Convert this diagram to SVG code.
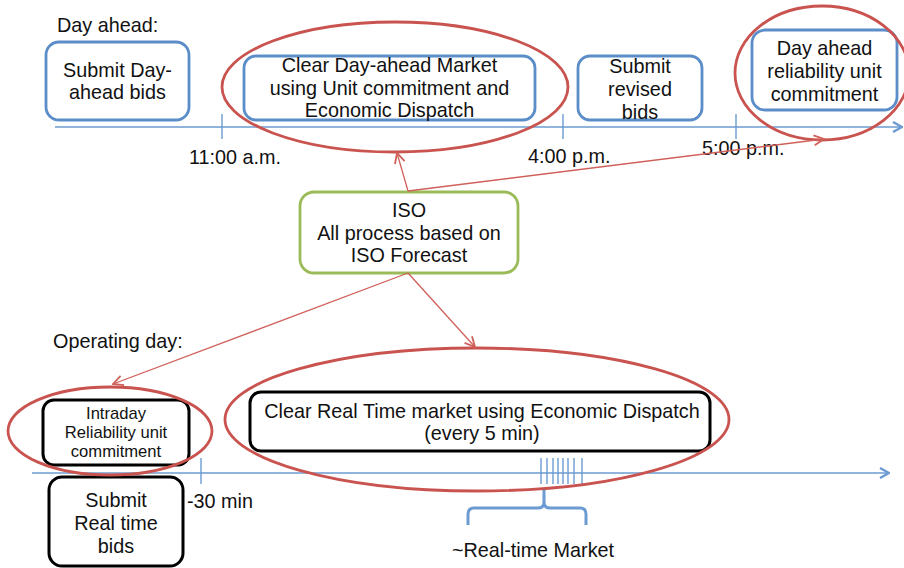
<svg xmlns="http://www.w3.org/2000/svg" width="904" height="568" viewBox="0 0 904 568">
<defs>
<style>
text{font-family:"Liberation Sans",Arial,sans-serif;font-size:19.8px;fill:#111}
.c{text-anchor:middle}
.s{font-size:16.6px}
.bb{fill:#fff;stroke:#5b8ec9;stroke-width:2.8}
.kb{fill:#fff;stroke:#000;stroke-width:3}
.gb{fill:#fff;stroke:#9bbb59;stroke-width:2.8}
.ax{stroke:#6c9bd2;stroke-width:1.4;fill:none}
.tk{stroke:#6c9bd2;stroke-width:1.4}
.el{fill:none;stroke:#c9534f;stroke-width:2.8}
.ar{stroke:#d0605a;stroke-width:1.3;fill:none;marker-end:url(#rh)}
</style>
<marker id="rh" viewBox="0 0 12 12" refX="11" refY="6" markerWidth="12" markerHeight="12" markerUnits="userSpaceOnUse" orient="auto">
<path d="M1,1 L11,6 L1,11" fill="none" stroke="#d0605a" stroke-width="1.8"/>
</marker>
<marker id="bh" viewBox="0 0 12 12" refX="11" refY="6" markerWidth="12" markerHeight="12" markerUnits="userSpaceOnUse" orient="auto">
<path d="M2,1 L11,6 L2,11" fill="none" stroke="#6c9bd2" stroke-width="2.4"/>
</marker>
</defs>
<g id="timelines">
<line class="ax" x1="55" y1="127" x2="902" y2="127" marker-end="url(#bh)"/>
<line class="tk" x1="222" y1="114" x2="222" y2="139"/>
<line class="tk" x1="563" y1="114" x2="563" y2="139"/>
<line class="tk" x1="736" y1="114" x2="736" y2="139"/>
<line class="ax" x1="32" y1="473" x2="889" y2="473" marker-end="url(#bh)"/>
<line class="tk" x1="201" y1="458" x2="201" y2="484"/>
<g class="tk">
<line x1="541" y1="458" x2="541" y2="484"/><line x1="547" y1="458" x2="547" y2="484"/>
<line x1="553" y1="458" x2="553" y2="484"/><line x1="558" y1="458" x2="558" y2="484"/>
<line x1="563" y1="458" x2="563" y2="484"/><line x1="568" y1="458" x2="568" y2="484"/>
<line x1="574" y1="458" x2="574" y2="484"/><line x1="582" y1="458" x2="582" y2="484"/>
</g>
<path d="M468,525 L468,514 Q468,508 474,508 L538,508 Q544,508 544,502 L544,490 M544,502 Q544,508 550,508 L580,508 Q586,508 586,514 L586,525" fill="none" stroke="#6c9bd2" stroke-width="3"/>
</g>
<text x="57" y="32">Day ahead:</text>
<text x="53" y="348">Operating day:</text>
<text x="189" y="164">11:00 a.m.</text>
<text x="528" y="163">4:00 p.m.</text>
<text x="702" y="155">5:00 p.m.</text>
<text x="187" y="508">-30 min</text>
<text class="c" x="533" y="557">~Real-time Market</text>
<g id="submit-da">
<rect class="bb" x="46" y="42" width="143" height="78" rx="13"/>
<text class="c" x="117.5" y="77">Submit Day-</text>
<text class="c" x="117.5" y="99">ahead bids</text>
</g>
<g id="clear-da">
<rect class="bb" x="244" y="56" width="291" height="64" rx="12"/>
<text class="c" x="389.5" y="72">Clear Day-ahead Market</text>
<text class="c" x="389.5" y="95">using Unit commitment and</text>
<text class="c" x="389.5" y="117">Economic Dispatch</text>
</g>
<g id="submit-revised">
<rect class="bb" x="578" y="56" width="124" height="64" rx="12"/>
<text class="c" x="640" y="73">Submit</text>
<text class="c" x="640" y="96">revised</text>
<text class="c" x="640" y="119">bids</text>
</g>
<g id="da-reliability">
<rect class="bb" x="752" y="30" width="145" height="80" rx="13"/>
<text class="c" x="824.5" y="55">Day ahead</text>
<text class="c" x="824.5" y="78">reliability unit</text>
<text class="c" x="824.5" y="101">commitment</text>
</g>
<g id="iso">
<rect class="gb" x="300" y="192" width="218" height="81" rx="14"/>
<text class="c" x="409" y="217">ISO</text>
<text class="c" x="409" y="240">All process based on</text>
<text class="c" x="409" y="262">ISO Forecast</text>
</g>
<g id="intraday">
<rect class="kb" x="43" y="400" width="146" height="65" rx="11"/>
<text class="c s" x="116" y="419">Intraday</text>
<text class="c s" x="116" y="438">Reliability unit</text>
<text class="c s" x="116" y="457">commitment</text>
</g>
<g id="submit-rt">
<rect class="kb" x="49" y="477" width="134" height="89" rx="13"/>
<text class="c" x="116" y="507">Submit</text>
<text class="c" x="116" y="530">Real time</text>
<text class="c" x="116" y="553">bids</text>
</g>
<g id="clear-rt">
<rect class="kb" x="250" y="392" width="460" height="59" rx="11"/>
<text class="c" x="482" y="418">Clear Real Time market using Economic Dispatch</text>
<text class="c" x="482" y="440">(every 5 min)</text>
</g>
<g id="highlights">
<ellipse class="el" cx="395" cy="87" rx="173" ry="65"/>
<ellipse class="el" cx="822" cy="73" rx="87" ry="67"/>
<ellipse class="el" cx="110" cy="431" rx="102" ry="44"/>
<ellipse class="el" cx="477" cy="419.5" rx="252" ry="71.5"/>
</g>
<g id="connectors">
<line class="ar" x1="408" y1="191" x2="397" y2="153"/>
<line class="ar" x1="408" y1="191" x2="824" y2="139"/>
<line class="ar" x1="408" y1="273" x2="113" y2="384"/>
<line class="ar" x1="408" y1="273" x2="475" y2="347"/>
</g>
</svg>
